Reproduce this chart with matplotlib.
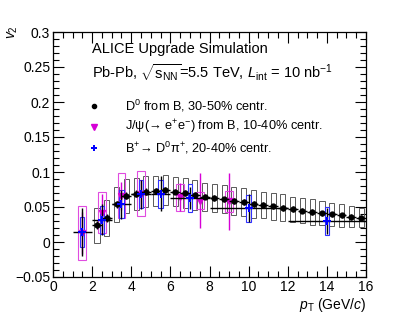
import numpy as np
import matplotlib
matplotlib.use("Agg")
import matplotlib.pyplot as plt
from matplotlib.patches import Rectangle
from matplotlib.ticker import MultipleLocator, FixedLocator, FixedFormatter

plt.rcParams['font.family'] = ['Liberation Sans', 'DejaVu Sans']
plt.rcParams['mathtext.fontset'] = 'custom'
plt.rcParams['mathtext.rm'] = 'Liberation Sans'
plt.rcParams['mathtext.it'] = 'Liberation Sans:italic'

# D0 from B, 30-50% (black)
d0_pt = [2.25, 2.75, 3.25, 3.75, 4.25, 4.75, 5.25, 5.75, 6.25, 6.75, 7.25, 7.75,
         8.25, 8.75, 9.25, 9.75, 10.25, 10.75, 11.25, 11.75, 12.25, 12.75, 13.25,
         13.75, 14.25, 14.75, 15.25, 15.75]
d0_v2 = [0.024, 0.034, 0.054, 0.066, 0.069, 0.072, 0.073, 0.074, 0.072, 0.070, 0.067, 0.065,
         0.063, 0.061, 0.059, 0.057, 0.054, 0.053, 0.051, 0.049, 0.047, 0.045, 0.043,
         0.041, 0.0395, 0.038, 0.036, 0.035]
d0_stat = [0.006, 0.006, 0.005, 0.005, 0.005, 0.005, 0.004, 0.004, 0.004, 0.004, 0.004, 0.004,
           0.004, 0.004, 0.004, 0.004, 0.004, 0.004, 0.004, 0.004, 0.004, 0.004, 0.004,
           0.004, 0.004, 0.004, 0.004, 0.004]
d0_sys = [0.025, 0.026, 0.025, 0.024, 0.023, 0.022, 0.021, 0.021, 0.021, 0.021, 0.021, 0.020,
          0.020, 0.020, 0.020, 0.020, 0.020, 0.019, 0.019, 0.019, 0.018, 0.018, 0.018,
          0.017, 0.016, 0.016, 0.015, 0.014]
d0_xerr = 0.25

# J/psi from B, 10-40% (magenta)
jpsi_pt = [1.5, 2.5, 3.5, 4.5, 6.5, 7.5, 9.0]
jpsi_v2 = [0.013, 0.042, 0.066, 0.069, 0.064, 0.059, 0.058]
jpsi_stat = [0.030, 0.027, 0.020, 0.020, 0.020, 0.039, 0.041]
jpsi_sys = [0.038, 0.029, 0.032, 0.032, 0.019, 0.012, 0.015]

# B+ -> D0 pi+, 20-40% (blue)
bp_pt = [1.5, 2.5, 3.5, 4.5, 5.5, 7.0, 10.0, 14.0]
bp_v2 = [0.014, 0.032, 0.054, 0.068, 0.069, 0.063, 0.048, 0.030]
bp_xerr = [0.5, 0.5, 0.5, 0.5, 0.5, 1.0, 2.0, 2.0]
bp_stat = [0.034, 0.022, 0.021, 0.021, 0.025, 0.016, 0.020, 0.018]
bp_sys = [0.021, 0.020, 0.020, 0.020, 0.020, 0.020, 0.019, 0.020]

fig = plt.figure(figsize=(4.07, 3.19), dpi=100)
ax = fig.add_axes([53/407, 1-277/319, 313/407, 245/319])

magenta = '#d600d6'

def boxes(x, y, s, hw, color, lw=0.8):
    for xi, yi, si in zip(x, y, s):
        ax.add_patch(Rectangle((xi - hw, yi - si), 2*hw, 2*si, fill=False,
                               edgecolor=color, lw=lw, zorder=2))

boxes(d0_pt, d0_v2, d0_sys, 0.13, '0.35', lw=0.7)
boxes(jpsi_pt, jpsi_v2, jpsi_sys, 0.2, '#e04ce0', lw=0.8)
boxes(bp_pt, bp_v2, bp_sys, 0.11, '#3030ff', lw=0.8)

ax.errorbar(jpsi_pt, jpsi_v2, yerr=jpsi_stat, fmt='v', color=magenta, ms=4,
            elinewidth=1.0, capsize=0, zorder=3)
ax.errorbar(d0_pt, d0_v2, xerr=d0_xerr, yerr=d0_stat, fmt='o', color='black', ms=3.5,
            elinewidth=1.0, capsize=0, zorder=4)
ax.errorbar(bp_pt, bp_v2, xerr=bp_xerr, yerr=bp_stat, fmt='none', ecolor='black',
            elinewidth=1.0, capsize=0, zorder=5)
ax.plot(bp_pt, bp_v2, 'P', color='blue', ms=5.5, mew=0, zorder=6)

ax.set_xlim(0, 16)
ax.set_ylim(-0.05, 0.3)
ax.xaxis.set_major_locator(MultipleLocator(2))
ax.xaxis.set_minor_locator(MultipleLocator(0.5))
yt = [-0.05, 0, 0.05, 0.1, 0.15, 0.2, 0.25, 0.3]
ax.yaxis.set_major_locator(FixedLocator(yt))
ax.yaxis.set_major_formatter(FixedFormatter(['\u22120.05', '0', '0.05', '0.1', '0.15', '0.2', '0.25', '0.3']))
ax.yaxis.set_minor_locator(MultipleLocator(0.01))
ax.tick_params(which='both', direction='in', top=True, right=True, labelsize=10, width=0.8)
ax.tick_params(which='major', length=8)
ax.tick_params(which='minor', length=4)
ax.tick_params(axis='x', pad=2.5)
ax.tick_params(axis='y', pad=2)
for sp in ax.spines.values():
    sp.set_linewidth(0.9)

ax.text(1.0, -0.115, r'$p_{\rm T}$ (GeV/$c$)', transform=ax.transAxes,
        ha='right', va='center', fontsize=10)
ax.text(-0.128, 1.0, r'$v_{2}$', transform=ax.transAxes, rotation=90,
        ha='center', va='center', fontsize=10)

ax.text(0.124, 0.93, 'ALICE Upgrade Simulation', transform=ax.transAxes,
        ha='left', va='center', fontsize=10.5)
ax.text(0.124, 0.835, r'Pb-Pb, $\sqrt{\mathrm{s}_{\mathrm{NN}}}$=5.5 TeV, $L_{\mathrm{int}}$ = 10 nb$^{-1}$',
        transform=ax.transAxes, ha='left', va='center', fontsize=10.5)

leg_y = [0.698, 0.612, 0.527]
leg_labels = [r'D$^{0}$ from B, 30-50% centr.',
              'J/\u03c8(\u2192 e$^{+}$e$^{-}$) from B, 10-40% centr.',
              'B$^{+}$\u2192 D$^{0}$\u03c0$^{+}$, 20-40% centr.']
ax.plot(0.131, leg_y[0], 'o', color='black', ms=3, transform=ax.transAxes)
ax.plot(0.131, leg_y[1], 'v', color=magenta, ms=4, transform=ax.transAxes)
ax.plot(0.131, leg_y[2], 'P', color='blue', ms=5, mew=0, transform=ax.transAxes)
for yy, lab in zip(leg_y, leg_labels):
    ax.text(0.23, yy, lab, transform=ax.transAxes, ha='left', va='center', fontsize=9.2)

fig.savefig('out.png', dpi=100)
